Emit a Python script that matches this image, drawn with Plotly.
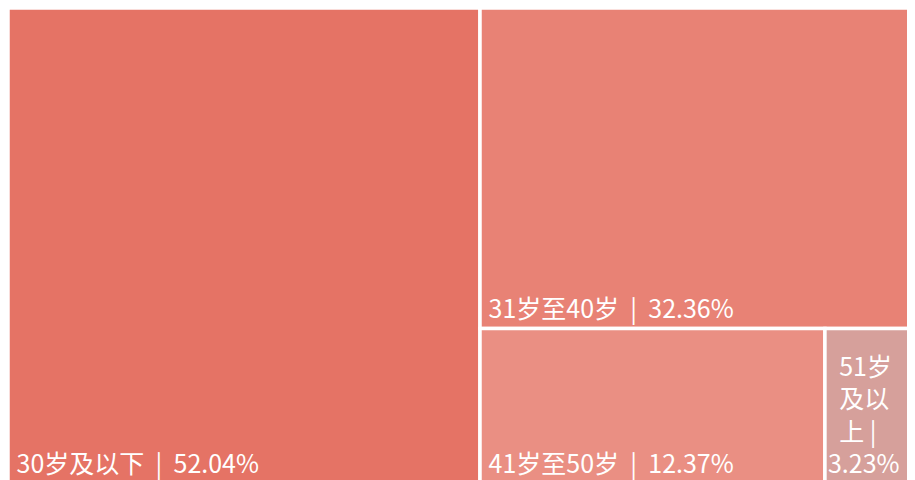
import plotly.graph_objects as go

# 年龄分布
labels = ["30岁及以下", "31岁至40岁", "41岁至50岁", "51岁及以上"]
values = [52.04, 32.36, 12.37, 3.23]
colors = ["#E57365", "#E88275", "#EA8F83", "#D6A09B"]
sep = "\u00a0\u00a0|\u00a0\u00a0"
text_labels = ["\u00a030岁及以下" + sep + "52.04%",
               "\u00a031岁至40岁" + sep + "32.36%",
               "\u00a041岁至50岁" + sep + "12.37%",
               "\u00a0\u00a051岁<br>\u00a0\u00a0及以<br>\u00a0\u00a0上 |<br>3.23%"]

fig = go.Figure(go.Treemap(
    labels=labels,
    parents=[""] * len(labels),
    values=values,
    text=text_labels,
    texttemplate="%{text}",
    textposition="bottom left",
    textfont=dict(color="white", size=25, family="Noto Sans CJK SC, Lato, sans-serif"),
    marker=dict(colors=colors, line=dict(color="white", width=3.5),
                pad=dict(t=0, l=0, r=0, b=0)),
    tiling=dict(packing="binary", pad=0),
    pathbar=dict(visible=False),
    sort=True,
    hoverinfo="label+value",
))

fig.update_layout(
    width=907, height=475,
    margin=dict(l=0, r=0, t=0, b=0),
    paper_bgcolor="white",
    showlegend=False,
)

fig.write_html("out.html")
